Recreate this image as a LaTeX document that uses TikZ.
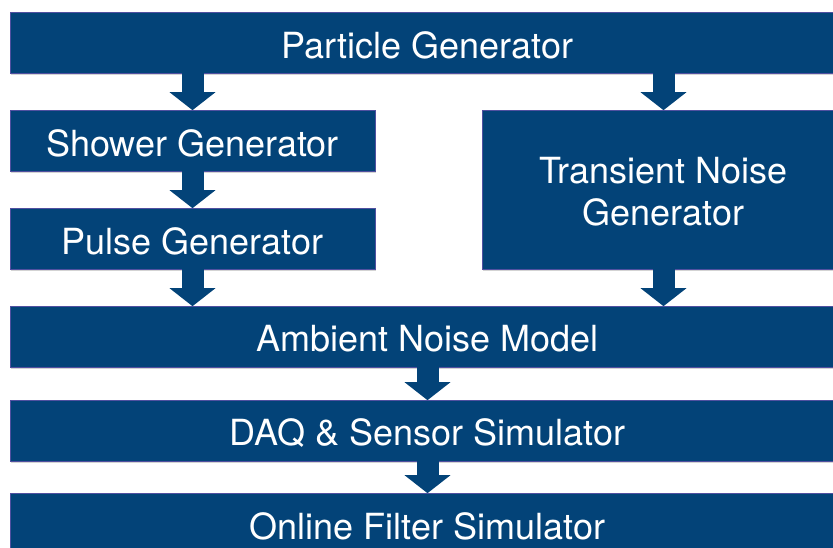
\documentclass[tikz,border=0pt]{standalone}
\usepackage{fontspec}
\setmainfont{TeX Gyre Heros}
\usetikzlibrary{arrows.meta,shadows}
\definecolor{boxblue}{RGB}{3,67,120}
\definecolor{boxedge}{RGB}{80,80,160}
\tikzset{
  box/.style={fill=boxblue, draw=boxedge, line width=0.6pt, inner sep=0pt,
    drop shadow={shadow xshift=1pt, shadow yshift=-1.5pt, opacity=0.35}},
  lbl/.style={text=white, font=\fontsize{36}{42}\selectfont, align=center,
    inner sep=0pt, yshift=-2.5pt},
  fat/.style={draw=boxblue, line width=22pt,
    -{Triangle[width=45pt,length=18pt]}, shorten >=-0.5pt}
}
\begin{document}
\begin{tikzpicture}[x=1pt,y=-1pt]
\useasboundingbox (0,0) rectangle (833,547);
\node[box, minimum width=835pt, minimum height=61pt, label={[lbl]center:Particle Generator}] (pg) at (427.5,42.5) {};
\node[box, minimum width=365pt, minimum height=61pt, label={[lbl]center:Shower Generator}] (sg) at (192.5,140.5) {};
\node[box, minimum width=365pt, minimum height=61pt, label={[lbl]center:Pulse Generator}] (pu) at (192.5,238.5) {};
\node[box, minimum width=363pt, minimum height=159pt, label={[lbl]center:Transient Noise\\Generator}] (tn) at (663.5,189.5) {};
\node[box, minimum width=835pt, minimum height=61pt, label={[lbl]center:Ambient Noise Model}] (am) at (427.5,336.5) {};
\node[box, minimum width=835pt, minimum height=61pt, label={[lbl]center:DAQ \& Sensor Simulator}] (dq) at (427.5,430.5) {};
\node[box, minimum width=835pt, minimum height=61pt, label={[lbl]center:Online Filter Simulator}] (of) at (427.5,523.5) {};
\draw[fat] (pg.south -| sg.north) -- (sg.north);
\draw[fat] (pg.south -| tn.north) -- (tn.north);
\draw[fat] (sg.south) -- (pu.north);
\draw[fat] (pu.south) -- (am.north -| pu.south);
\draw[fat] (tn.south) -- (am.north -| tn.south);
\draw[fat] (am.south) -- (dq.north);
\draw[fat] (dq.south) -- (of.north);
\end{tikzpicture}
\end{document}
